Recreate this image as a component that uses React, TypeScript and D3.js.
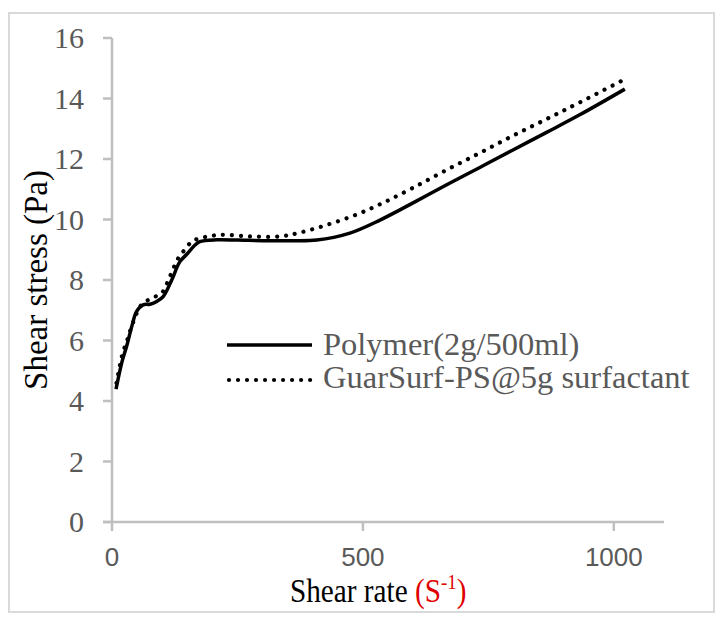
import React from 'react'
import * as d3 from 'd3'

// shear rate (1/s)
const polymerRate = [8, 20, 29, 40, 49, 62, 76, 90, 102, 119, 135, 149, 165, 175, 208, 250, 300, 350, 408, 474, 534, 600, 667, 733, 799, 866, 932, 1022]
const polymerStress = [4.39, 5.3, 5.8, 6.5, 6.96, 7.18, 7.2, 7.3, 7.45, 8.0, 8.6, 8.85, 9.15, 9.27, 9.33, 9.32, 9.3, 9.3, 9.32, 9.55, 9.98, 10.55, 11.15, 11.72, 12.3, 12.88, 13.46, 14.31]

const guarRate = [9, 20, 30, 42, 55, 62, 79, 99, 115, 132, 145, 159, 175, 215, 275, 335, 375, 428, 487, 540, 600, 667, 733, 799, 866, 932, 1022]
const guarStress = [4.6, 5.5, 6.0, 6.6, 7.1, 7.23, 7.4, 7.57, 8.1, 8.72, 9.0, 9.27, 9.38, 9.49, 9.44, 9.44, 9.57, 9.82, 10.16, 10.55, 11.05, 11.64, 12.2, 12.77, 13.32, 13.87, 14.64]

const yTicks = [0, 2, 4, 6, 8, 10, 12, 14, 16]
const xTicks = [0, 500, 1000]
const seriesNames = ['Polymer(2g/500ml)', 'GuarSurf-PS@5g surfactant']

const W = 725
const H = 623
const axisColor = '#bfbfbf'
const labelColor = '#595959'
const serif = '"Liberation Serif", "Times New Roman", serif'

export default function App() {
  const x = d3.scaleLinear().domain([0, 1100]).range([112, 664])
  const y = d3.scaleLinear().domain([0, 16]).range([522, 38])

  const line = d3
    .line<[number, number]>()
    .x(d => x(d[0]))
    .y(d => y(d[1]))
    .curve(d3.curveCatmullRom.alpha(0.5))

  const polymer = polymerRate.map((r, i) => [r, polymerStress[i]] as [number, number])
  const guar = guarRate.map((r, i) => [r, guarStress[i]] as [number, number])

  const dotted = { strokeDasharray: '0.01 9', strokeLinecap: 'round' as const }

  return (
    <svg width={W} height={H} style={{ position: 'absolute', left: 0, top: 0, background: '#fff' }}>
      <rect x={9} y={13} width={705} height={599} fill="#fff" stroke="#d9d9d9" strokeWidth={2} />

      {/* axes */}
      <line x1={x(0)} x2={x(0)} y1={y(16)} y2={y(0)} stroke={axisColor} strokeWidth={2.5} />
      <line x1={x(0) - 9} x2={x(1100)} y1={y(0)} y2={y(0)} stroke={axisColor} strokeWidth={2.5} />
      {yTicks.map(t => (
        <g key={'y' + t}>
          <line x1={x(0) - 9} x2={x(0)} y1={y(t)} y2={y(t)} stroke={axisColor} strokeWidth={2.5} />
          <text x={84} y={y(t) + 10} textAnchor="end" fontFamily={serif} fontSize={30} fill={labelColor}>
            {t}
          </text>
        </g>
      ))}
      {xTicks.map(t => (
        <g key={'x' + t}>
          <line x1={x(t)} x2={x(t)} y1={y(0)} y2={y(0) + 9} stroke={axisColor} strokeWidth={2.5} />
          <text x={x(t)} y={566} textAnchor="middle" fontFamily='"Liberation Sans", Arial, sans-serif' fontSize={26} fill={labelColor}>
            {t}
          </text>
        </g>
      ))}

      {/* series */}
      <path d={line(polymer) || ''} fill="none" stroke="#000" strokeWidth={3.5} />
      <path d={line(guar) || ''} fill="none" stroke="#000" strokeWidth={4.2} {...dotted} />

      {/* legend */}
      <line x1={227} x2={312} y1={345} y2={345} stroke="#000" strokeWidth={3.5} />
      <line x1={229} x2={312} y1={380} y2={380} stroke="#000" strokeWidth={4.2} {...dotted} />
      <text x={323} y={355} fontFamily={serif} fontSize={32.5} fill={labelColor}>{seriesNames[0]}</text>
      <text x={323} y={388} fontFamily={serif} fontSize={32.5} fill={labelColor}>{seriesNames[1]}</text>

      {/* axis titles */}
      <text transform="translate(47,280) rotate(-90)" textAnchor="middle" fontFamily={serif} fontSize={33} fill="#000">
        Shear stress (Pa)
      </text>
      <text transform="translate(290,602) scale(0.86,1)" fontFamily={serif} fontSize={34} fill="#000">
        Shear rate <tspan fill="#e00000">(S</tspan>
        <tspan fill="#e00000" fontSize={22} dy={-13}>-1</tspan>
        <tspan fill="#e00000" dy={13}>)</tspan>
      </text>
    </svg>
  )
}
